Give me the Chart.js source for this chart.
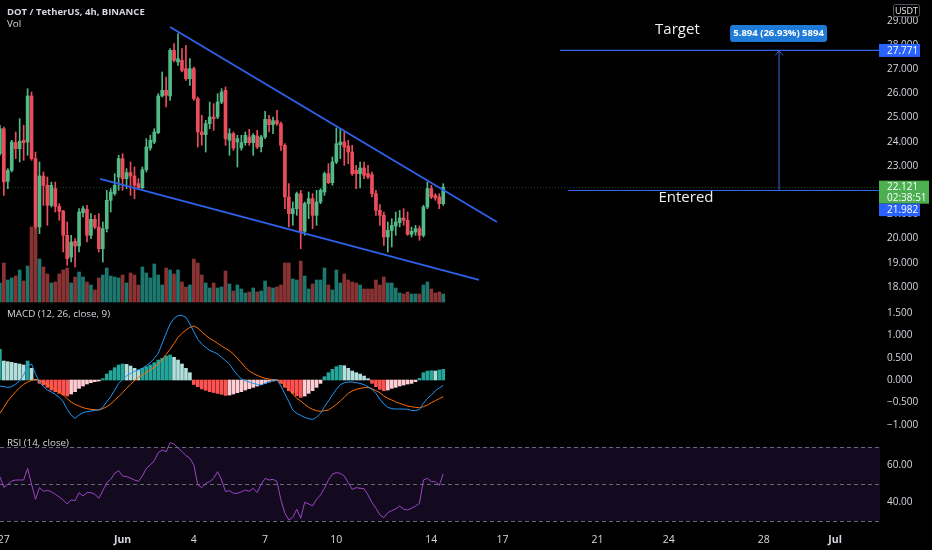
<!DOCTYPE html>
<html>
<head>
<meta charset="utf-8">
<title>DOT / TetherUS, 4h</title>
<script src="https://cdn.jsdelivr.net/npm/chart.js@4.4.0/dist/chart.umd.min.js"></script>
<style>
  html, body { margin: 0; padding: 0; background: #000; }
  #wrap { position: relative; width: 932px; height: 550px; }
</style>
</head>
<body>
<div id="wrap"><canvas id="chart"></canvas></div>
<script>
// 4h candles, first one opens 26 May 20:00 (day 0 = 1 June 00:00)
const firstCandleDay = -31 / 6;
const candleStepDays = 1 / 6;

const opens = [23.505,24.538,22.362,22.817,23.960,23.712,24.056,23.987,25.888,23.299,
  20.475,22.582,22.197,21.370,22.059,21.329,21.136,20.131,19.235,19.883,
  19.690,21.067,21.205,20.131,20.792,20.475,19.580,20.406,21.577,21.852,
  22.541,23.299,22.472,22.720,22.582,22.266,22.100,22.844,23.739,23.987,
  24.373,25.888,26.122,25.888,27.775,27.293,27.362,27.018,26.604,27.018,
  25.778,24.401,24.290,24.745,25.020,25.020,25.640,26.122,24.056,24.332,
  23.987,23.739,23.960,24.194,23.960,24.236,23.781,24.194,24.924,24.704,
  24.869,24.745,23.850,21.715,21.026,21.233,21.852,20.296,21.439,21.646,
  20.957,21.508,21.921,22.679,22.307,23.161,23.877,23.987,23.822,23.574,
  22.817,22.679,22.913,22.679,22.637,21.852,21.164,20.957,20.062,20.337,
  20.516,20.654,20.847,20.750,20.172,20.268,20.406,20.131,21.301,22.059,
  21.783,21.715,21.439];
const highs = [24.676,24.607,22.886,24.056,24.401,24.951,24.676,26.191,26.053,23.574,
  23.161,22.748,22.541,22.334,22.334,21.439,21.164,20.682,20.131,19.993,
  21.233,21.343,21.370,21.026,20.957,21.026,20.682,21.990,22.059,22.679,
  23.436,23.505,22.886,23.161,22.954,22.472,22.954,24.125,24.263,24.538,
  25.985,26.880,26.673,27.844,28.051,28.464,27.844,27.982,27.431,27.087,
  25.847,25.089,24.883,25.640,25.571,25.985,26.191,26.260,24.538,24.401,
  24.263,24.263,24.401,24.511,24.332,24.469,24.263,25.255,25.089,25.020,
  25.296,24.814,23.918,22.266,21.508,21.921,21.990,21.508,21.921,21.852,
  21.990,22.059,22.748,23.092,23.368,24.566,24.538,24.401,24.056,23.850,
  23.023,23.161,23.161,23.023,22.748,21.990,21.398,21.095,20.682,20.819,
  21.095,21.164,21.233,21.095,20.475,20.544,20.516,21.370,22.334,22.197,
  21.852,21.852,22.266];
const lows = [23.436,21.783,22.059,22.748,23.299,23.161,23.230,23.436,23.230,20.406,
  20.200,21.370,20.544,21.301,21.095,20.750,19.442,18.891,19.029,18.822,
  19.442,20.888,19.855,19.993,20.406,19.442,19.029,20.268,21.095,21.783,
  21.990,21.990,22.059,21.783,21.646,22.059,22.059,22.748,23.643,23.918,
  24.332,25.847,25.434,25.709,27.293,27.155,26.880,26.536,26.329,25.709,
  23.781,23.850,23.574,24.538,24.469,24.951,25.571,23.850,23.436,23.643,
  22.954,23.643,23.850,23.850,23.436,23.712,23.574,24.125,24.401,24.332,
  24.676,23.643,21.233,20.475,20.544,20.957,19.580,20.131,20.819,20.406,
  20.544,21.439,21.783,22.266,22.197,23.092,23.299,23.023,23.092,22.610,
  22.059,22.087,22.472,22.472,21.715,20.957,20.544,19.717,19.442,19.649,
  20.131,20.475,20.544,20.131,20.062,20.131,19.924,20.062,21.233,21.646,
  21.577,21.233,21.370];
const closes = [24.538,22.334,22.817,23.987,23.712,24.015,23.960,25.888,23.299,20.475,
  22.582,22.197,21.370,22.197,21.329,21.122,20.131,19.166,19.855,19.690,
  21.095,21.233,20.131,20.792,20.475,19.580,20.406,21.577,21.921,22.197,
  23.299,22.472,22.720,22.582,22.197,22.100,22.844,23.781,24.056,24.401,
  25.888,26.122,25.916,27.775,27.362,27.431,26.949,26.604,27.018,25.778,
  24.401,24.290,24.745,25.020,24.951,25.640,26.053,24.125,24.332,23.739,
  24.125,23.960,24.263,23.960,24.263,23.781,24.194,24.924,24.704,24.869,
  24.745,23.850,21.715,21.026,21.233,21.852,20.296,21.439,21.646,20.957,
  21.508,21.990,22.679,22.307,23.161,23.918,23.987,23.781,23.574,22.679,
  22.679,22.913,22.610,22.541,21.852,21.164,20.957,20.062,20.337,20.544,
  20.682,20.847,20.750,20.172,20.296,20.406,20.131,21.301,22.059,21.715,
  21.673,21.439,22.121];
// volume, thousand DOT (approximate)
const volumes = [190,390,220,240,260,320,210,360,750,740,
  430,350,280,190,200,280,320,340,190,250,
  300,250,200,170,120,240,270,340,260,250,
  240,270,190,290,270,170,350,290,240,380,
  270,170,340,320,280,320,200,150,170,430,
  390,270,190,140,190,140,150,310,180,110,
  170,130,90,100,140,100,110,210,150,140,
  150,170,390,390,230,220,410,260,130,180,
  220,220,340,170,120,320,190,280,220,200,
  190,170,130,130,130,220,170,250,190,190,
  140,90,80,100,80,80,80,170,200,130,
  90,100,80];

const macdLine = [-0.134,-0.149,-0.164,-0.149,-0.089,-0.015,0.112,0.313,0.358,0.134,
  -0.037,-0.149,-0.224,-0.268,-0.321,-0.388,-0.485,-0.656,-0.783,-0.858,
  -0.783,-0.731,-0.708,-0.694,-0.679,-0.671,-0.611,-0.485,-0.373,-0.224,
  -0.075,0.015,0.089,0.149,0.194,0.224,0.261,0.321,0.388,0.485,
  0.597,0.820,1.044,1.253,1.380,1.439,1.447,1.402,1.253,1.081,
  0.910,0.805,0.731,0.664,0.626,0.582,0.507,0.433,0.358,0.224,
  0.112,0.030,-0.015,-0.045,-0.075,-0.097,-0.112,-0.075,-0.037,0.000,
  0.000,-0.134,-0.313,-0.485,-0.671,-0.746,-0.790,-0.835,-0.865,-0.880,
  -0.835,-0.746,-0.597,-0.470,-0.336,-0.209,-0.104,-0.060,-0.045,-0.045,
  -0.060,-0.075,-0.104,-0.149,-0.209,-0.298,-0.433,-0.537,-0.611,-0.641,
  -0.649,-0.649,-0.649,-0.656,-0.679,-0.686,-0.656,-0.522,-0.410,-0.336,
  -0.239,-0.179,-0.119];
const signalLine = [-0.746,-0.611,-0.470,-0.358,-0.261,-0.172,-0.097,-0.045,-0.007,0.015,
  -0.015,-0.052,-0.097,-0.149,-0.209,-0.261,-0.328,-0.418,-0.492,-0.544,
  -0.582,-0.619,-0.641,-0.656,-0.664,-0.671,-0.641,-0.597,-0.537,-0.447,
  -0.373,-0.283,-0.186,-0.097,-0.015,0.060,0.112,0.164,0.224,0.291,
  0.358,0.462,0.574,0.686,0.820,0.955,1.044,1.119,1.178,1.208,
  1.163,1.081,0.999,0.932,0.880,0.820,0.761,0.708,0.656,0.582,
  0.485,0.388,0.283,0.201,0.149,0.104,0.067,0.037,0.022,0.007,
  0.000,-0.045,-0.127,-0.209,-0.313,-0.410,-0.470,-0.544,-0.611,-0.656,
  -0.686,-0.701,-0.686,-0.671,-0.611,-0.544,-0.470,-0.388,-0.298,-0.246,
  -0.209,-0.186,-0.172,-0.164,-0.194,-0.239,-0.283,-0.358,-0.410,-0.447,
  -0.492,-0.522,-0.552,-0.582,-0.597,-0.611,-0.619,-0.597,-0.559,-0.507,
  -0.462,-0.418,-0.373];
const macdHist = [0.686,0.425,0.410,0.395,0.373,0.358,0.336,0.425,0.261,0.015,
  -0.075,-0.110,-0.164,-0.224,-0.261,-0.298,-0.336,-0.358,-0.313,-0.261,
  -0.186,-0.134,-0.089,-0.060,-0.037,-0.022,0.030,0.134,0.209,0.276,
  0.336,0.358,0.350,0.313,0.261,0.224,0.261,0.298,0.336,0.388,
  0.447,0.485,0.537,0.559,0.507,0.447,0.358,0.261,0.164,-0.100,
  -0.150,-0.200,-0.230,-0.260,-0.280,-0.300,-0.320,-0.345,-0.336,-0.313,
  -0.283,-0.261,-0.224,-0.194,-0.164,-0.134,-0.104,-0.075,-0.045,-0.022,
  -0.010,-0.075,-0.164,-0.239,-0.298,-0.350,-0.388,-0.358,-0.298,-0.239,
  -0.164,-0.075,0.075,0.164,0.239,0.298,0.330,0.320,0.261,0.201,
  0.164,0.134,0.089,0.030,-0.075,-0.149,-0.209,-0.239,-0.224,-0.186,
  -0.164,-0.134,-0.112,-0.089,-0.075,-0.037,0.037,0.164,0.201,0.209,
  0.201,0.224,0.239];
const rsiValues = [53.96,48.20,49.82,51.62,52.16,52.16,52.16,58.47,49.82,41.71,
  48.02,46.04,46.58,45.86,44.41,42.97,41.35,39.19,41.35,40.99,
  45.32,43.51,45.32,45.32,44.41,42.25,46.40,50.72,52.52,55.77,
  57.21,54.32,53.96,53.24,52.16,51.44,54.32,58.47,60.27,62.61,
  66.94,68.38,67.48,72.34,71.62,69.46,67.48,65.32,63.87,60.27,
  49.46,48.02,50.36,51.26,53.06,56.67,52.16,45.86,46.40,44.95,
  44.95,45.68,46.76,46.04,47.66,45.32,49.82,53.06,52.16,52.52,
  51.26,41.35,34.14,30.54,31.98,36.31,31.44,40.09,39.19,38.11,
  41.71,44.05,47.66,52.16,55.41,56.13,55.77,54.32,50.72,47.12,
  48.02,47.66,47.48,44.05,39.91,36.85,33.24,31.80,34.50,35.59,
  36.49,38.11,36.31,35.95,36.85,38.11,39.55,52.16,53.06,51.26,
  51.26,49.28,55.41];

// time axis (days from 1 June)
const dayTickValues = [-5, 0, 3, 6, 9, 13, 16, 20, 23, 27, 30];
const dayTickLabels = ['27', 'Jun', '4', '7', '10', '14', '17', '21', '24', '28', 'Jul'];
const monthTickLabels = ['Jun', 'Jul'];

// drawings
const upperTrendDays = [2.0, 15.76];
const upperTrendPrices = [28.74, 20.68];
const lowerTrendDays = [-0.95, 15.0];
const lowerTrendPrices = [22.46, 18.29];
const targetPrice = 27.771;
const entryPrice = 21.982;
const lastPrice = 22.121;
const targetStartDay = 18.42;
const entryStartDay = 18.76;
const measureDay = 27.64;
const targetLabelDay = 23.36;
const entryLabelDay = 23.72;
const measureText = '5.894 (26.93%) 5894';
const countdownText = '02:38:51';
const rsiLevels = [70, 50, 30];

const FONT = '"Open Sans", "Noto Sans", sans-serif';
const TXT = '#d6d8df';
const UP = '#53b987', DOWN = '#eb4d5c';
const VOL_UP = '#1d776e', VOL_DOWN = '#8a3334';
const BLUE = '#2962ff';

const candleDays = closes.map((_, i) => firstCandleDay + i * candleStepDays);
const isUp = closes.map((c, i) => c >= opens[i]);
const pts = arr => arr.map((v, i) => ({ x: candleDays[i], y: v }));
const histColors = macdHist.map((h, i) => {
  const prev = i > 0 ? macdHist[i - 1] : h;
  if (h >= 0) return h >= prev ? '#26a69a' : '#b2dfdb';
  return h <= prev ? '#ff5252' : '#ffcdd2';
});

const xMin = -5.162, xMax = 31.89;

const lineDs = (label, axis, data, color, width, order) => ({
  type: 'line', label, yAxisID: axis, data, borderColor: color, borderWidth: width,
  pointRadius: 0, tension: 0, fill: false, order
});

const overlay = {
  id: 'overlay',
  beforeDatasetsDraw(chart) {
    const { ctx, chartArea: a, scales } = chart;
    const r = scales.rsi;
    ctx.save();
    const yTop = r.getPixelForValue(rsiLevels[0]);
    const yBot = r.getPixelForValue(rsiLevels[2]);
    ctx.fillStyle = '#130a1f';
    ctx.fillRect(a.left, yTop, a.right - a.left, yBot - yTop);
    ctx.strokeStyle = '#676a75';
    ctx.lineWidth = 1;
    ctx.setLineDash([4, 3]);
    rsiLevels.forEach(v => {
      const y = Math.round(r.getPixelForValue(v)) + 0.5;
      ctx.beginPath(); ctx.moveTo(a.left, y); ctx.lineTo(a.right, y); ctx.stroke();
    });
    // current price line
    const py = Math.round(scales.price.getPixelForValue(lastPrice)) + 0.5;
    ctx.strokeStyle = 'rgba(83,185,135,0.35)';
    ctx.setLineDash([1, 2]);
    ctx.beginPath(); ctx.moveTo(a.left, py); ctx.lineTo(a.right, py); ctx.stroke();
    ctx.restore();
  },
  afterDraw(chart) {
    const { ctx, chartArea: a, scales } = chart;
    const x = scales.x, y = scales.price, m = scales.macd, r = scales.rsi;
    ctx.save();
    ctx.textBaseline = 'middle';
    ctx.fillStyle = TXT;
    ctx.font = `bold 9.5px ${FONT}`;
    ctx.fillText('DOT / TetherUS, 4h, BINANCE', 7, 12);
    ctx.font = `9.8px ${FONT}`;
    ctx.fillText('Vol', 7, 24.5);
    ctx.fillText('MACD (12, 26, close, 9)', 7, m.top + 11);
    ctx.fillText('RSI (14, close)', 7, r.top + 8);

    const ty = y.getPixelForValue(targetPrice);
    const ey = y.getPixelForValue(entryPrice);
    const ly = y.getPixelForValue(lastPrice);

    // arrow head of the price range
    const ax = x.getPixelForValue(measureDay);
    ctx.strokeStyle = '#3a66d8';
    ctx.lineWidth = 1;
    ctx.beginPath();
    ctx.moveTo(ax - 4, ty + 5); ctx.lineTo(ax, ty + 0.5); ctx.lineTo(ax + 4, ty + 5);
    ctx.stroke();

    // labels on the drawings
    ctx.fillStyle = '#f0f0f0';
    ctx.font = `15px ${FONT}`;
    ctx.textAlign = 'center';
    ctx.textBaseline = 'alphabetic';
    ctx.fillText('Target', x.getPixelForValue(targetLabelDay), ty - 16.5);
    ctx.fillText('Entered', x.getPixelForValue(entryLabelDay), ey + 11.5);

    ctx.fillStyle = '#1f7bd8';
    ctx.beginPath();
    ctx.roundRect(ax - 49, ty - 25.5, 97, 17, 3);
    ctx.fill();
    ctx.fillStyle = '#ffffff';
    ctx.font = `bold 9.5px ${FONT}`;
    ctx.textBaseline = 'middle';
    ctx.fillText(measureText, ax - 0.5, ty - 16.8);

    // price scale labels
    const lx = a.right - 1;
    ctx.textAlign = 'left';
    ctx.font = `10px ${FONT}`;
    ctx.fillStyle = BLUE;
    ctx.fillRect(lx, ty - 6.5, 41, 13);
    ctx.fillStyle = '#ffffff';
    ctx.fillText(targetPrice.toFixed(3), a.right + 7, ty + 0.5);

    const gTop = ly - 6.5;
    ctx.fillStyle = '#4caf50';
    ctx.fillRect(lx, gTop, 50, 23);
    ctx.fillStyle = '#ffffff';
    ctx.fillText(lastPrice.toFixed(3), a.right + 7, gTop + 6.5);
    ctx.fillText(countdownText, a.right + 7, gTop + 17);

    const bTop = gTop + 23;
    ctx.fillStyle = BLUE;
    ctx.fillRect(lx, bTop, 41, 12.5);
    ctx.fillStyle = '#ffffff';
    ctx.fillText(entryPrice.toFixed(3), a.right + 7, bTop + 6.5);

    // currency badge
    ctx.strokeStyle = '#505360';
    ctx.lineWidth = 1;
    ctx.beginPath();
    ctx.roundRect(893.5, 4.5, 26, 12, 2);
    ctx.stroke();
    ctx.fillStyle = '#e8e8e8';
    ctx.font = `9px ${FONT}`;
    ctx.textAlign = 'center';
    ctx.fillText('USDT', 906.5, 11);
    ctx.restore();
  }
};

const yAxisBase = (weight) => ({
  type: 'linear', position: 'right', stack: 'panes', stackWeight: weight,
  beginAtZero: false,
  grid: { display: false, drawTicks: false },
  border: { display: false },
  afterFit: s => { s.width = 52; s.paddingTop = 0; s.paddingBottom = 0; }
});

new Chart(document.getElementById('chart'), {
  type: 'bar',
  data: {
    datasets: [
      { type: 'bar', label: 'Volume', yAxisID: 'vol', data: pts(volumes),
        backgroundColor: isUp.map(u => u ? VOL_UP : VOL_DOWN), barThickness: 3, grouped: false, order: 10 },
      { type: 'bar', label: 'Wick', yAxisID: 'price',
        data: candleDays.map((d, i) => ({ x: d, y: [lows[i], highs[i]] })),
        backgroundColor: isUp.map(u => u ? UP : DOWN), barThickness: 1, grouped: false, order: 7 },
      { type: 'bar', label: 'Body', yAxisID: 'price',
        data: candleDays.map((d, i) => ({ x: d, y: [opens[i], closes[i]] })),
        backgroundColor: isUp.map(u => u ? UP : DOWN), barThickness: 3, minBarLength: 1, grouped: false, order: 6 },
      { type: 'bar', label: 'Histogram', yAxisID: 'macd', data: pts(macdHist),
        backgroundColor: histColors, barThickness: 3, grouped: false, order: 5 },
      lineDs('Signal', 'macd', pts(signalLine), '#ff6d00', 1, 4),
      lineDs('MACD', 'macd', pts(macdLine), '#2196f3', 1, 3),
      lineDs('RSI', 'rsi', pts(rsiValues), '#9b45c4', 1, 3),
      lineDs('Upper trend', 'price', upperTrendDays.map((d, i) => ({ x: d, y: upperTrendPrices[i] })), '#2f62ec', 1.8, 1),
      lineDs('Lower trend', 'price', lowerTrendDays.map((d, i) => ({ x: d, y: lowerTrendPrices[i] })), '#2f62ec', 1.8, 1),
      lineDs('Target', 'price', [{ x: targetStartDay, y: targetPrice }, { x: xMax, y: targetPrice }], '#3366f0', 1.2, 1),
      lineDs('Entered', 'price', [{ x: entryStartDay, y: entryPrice }, { x: xMax, y: entryPrice }], '#3366f0', 1.2, 1),
      lineDs('Range', 'price', [{ x: measureDay, y: entryPrice }, { x: measureDay, y: targetPrice }], '#3a66d8', 1, 1)
    ]
  },
  options: {
    responsive: true,
    maintainAspectRatio: false,
    animation: false,
    layout: { padding: 0 },
    plugins: { legend: { display: false }, tooltip: { enabled: false } },
    scales: {
      x: {
        type: 'linear', position: 'bottom', min: xMin, max: xMax, offset: false,
        grid: { display: false, drawTicks: false, offset: false },
        border: { display: false },
        afterBuildTicks: s => { s.ticks = dayTickValues.map(v => ({ value: v })); },
        afterFit: s => { s.height = 20; s.paddingLeft = 0; s.paddingRight = 0; },
        ticks: {
          autoSkip: false, maxRotation: 0, padding: 4, color: TXT,
          font: ctx => {
            const i = ctx.tick ? dayTickValues.indexOf(ctx.tick.value) : -1;
            const bold = i >= 0 && monthTickLabels.includes(dayTickLabels[i]);
            return { family: FONT, size: 10.5, weight: bold ? 'bold' : 'normal' };
          },
          callback: v => dayTickLabels[dayTickValues.indexOf(v)]
        }
      },
      price: Object.assign(yAxisBase(303), {
        min: 17.334, max: 29.855,
        ticks: { stepSize: 1, autoSkip: false, includeBounds: false, padding: 7, color: TXT,
          font: { family: FONT, size: 10 }, callback: v => v.toFixed(3) }
      }),
      macd: Object.assign(yAxisBase(132), {
        min: -1.230, max: 1.723,
        ticks: { stepSize: 0.5, autoSkip: false, includeBounds: false, padding: 7, color: TXT,
          font: { family: FONT, size: 10 }, callback: v => v.toFixed(3).replace('-', '\u2212') }
      }),
      rsi: Object.assign(yAxisBase(95), {
        min: 25.1, max: 76.5,
        afterBuildTicks: s => { s.ticks = [{ value: 40 }, { value: 60 }]; },
        ticks: { autoSkip: false, padding: 7, color: TXT, font: { family: FONT, size: 10 }, callback: v => v.toFixed(2) }
      }),
      vol: { type: 'linear', display: false, position: 'right', min: -2280, max: 3020, beginAtZero: false }
    }
  },
  plugins: [overlay]
});
</script>
</body>
</html>
